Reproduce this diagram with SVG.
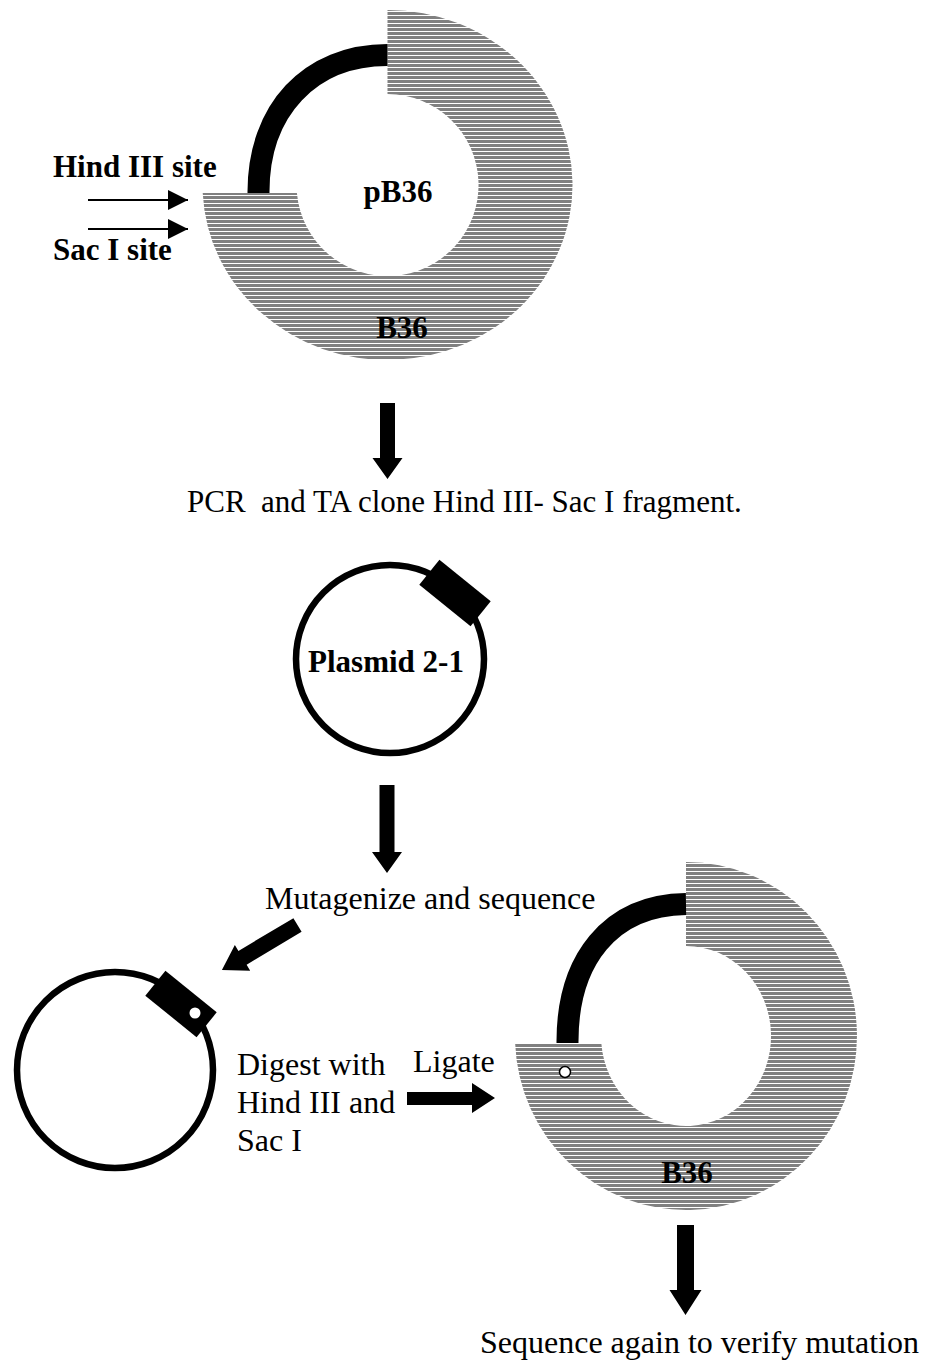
<svg xmlns="http://www.w3.org/2000/svg" width="925" height="1363" viewBox="0 0 925 1363">
<style>
.bold{font-family:"Liberation Serif","Times New Roman",serif;font-weight:bold;font-size:31px;fill:#000}
.reg{font-family:"Liberation Serif","Times New Roman",serif;font-size:32px;fill:#000}
.ring{fill:url(#hatch)}
.insert{fill:none;stroke:#000;stroke-width:22}
.plasmid{fill:none;stroke:#000;stroke-width:6.5}
.blk{fill:#000}
.dot{fill:#fff;stroke:#000;stroke-width:1.5}
.thin{stroke:#000;stroke-width:2;fill:none}
</style>
<defs>
<pattern id="hatch" patternUnits="userSpaceOnUse" x="0" y="0" width="10" height="4">
<rect x="0" y="0" width="10" height="4" fill="#fff" shape-rendering="crispEdges"/>
<rect x="0" y="0" width="10" height="3" fill="#808080" shape-rendering="crispEdges"/>
</pattern>
<marker id="tri" markerUnits="userSpaceOnUse" markerWidth="20" markerHeight="20" refX="20" refY="10" orient="auto" viewBox="0 0 20 20">
<path d="M0,0 L20,10 L0,20 Z" fill="#000"/>
</marker>
</defs>
<rect width="925" height="1363" fill="#fff"/>

<g id="node-pB36">
<path class="ring" d="M387.5,10 A185,175 0 1 1 202.7,193 L296.9,193 A91,91 0 1 0 387.5,94 Z"/>
<path class="insert" d="M258.5,193 C258,110 310,55 387.5,55"/>
<text class="bold" x="398" y="202" text-anchor="middle">pB36</text>
<text class="bold" x="402" y="338" text-anchor="middle">B36</text>
</g>

<g id="node-sites">
<text class="bold" x="53" y="177">Hind III site</text>
<text class="bold" x="53" y="260">Sac I site</text>
</g>

<g id="node-plasmid21">
<circle class="plasmid" cx="390" cy="659" r="94"/>
<rect class="blk" x="-33" y="-16" width="66" height="32" transform="translate(455,593) rotate(39)"/>
<text class="bold" x="386" y="672" text-anchor="middle">Plasmid 2-1</text>
</g>

<g id="node-mutated">
<circle class="plasmid" cx="115" cy="1070" r="98"/>
<rect class="blk" x="-33" y="-16" width="66" height="32" transform="translate(181,1004) rotate(39)"/>
<circle cx="195" cy="1013" r="5.5" fill="#fff"/>
</g>

<g id="node-final">
<path class="ring" d="M686,862 A171,174 0 1 1 515.1,1043 L601.3,1043 A85,90 0 1 0 686,946 Z"/>
<path class="insert" d="M567.5,1043 C567,960 610,905 686,904"/>
<circle class="dot" cx="565" cy="1072" r="5.5"/>
<text class="bold" x="687" y="1183" text-anchor="middle">B36</text>
</g>

<g id="labels">
<text class="reg" x="187" y="512" style="font-size:31px;white-space:pre" xml:space="preserve">PCR  and TA clone Hind III- Sac I fragment.</text>
<text class="reg" x="265" y="909">Mutagenize and sequence</text>
<text class="reg" x="237" y="1075">Digest with</text>
<text class="reg" x="237" y="1113">Hind III and</text>
<text class="reg" x="237" y="1151">Sac I</text>
<text class="reg" x="413" y="1072">Ligate</text>
<text class="reg" x="480" y="1353">Sequence again to verify mutation</text>
</g>

<g id="connectors">
<line class="thin" x1="88" y1="200" x2="188" y2="200" marker-end="url(#tri)"/>
<line class="thin" x1="88" y1="229" x2="188" y2="229" marker-end="url(#tri)"/>
<polygon class="blk" points="380,403 395,403 395,458 402.5,458 387.5,479 372.5,458 380,458"/>
<polygon class="blk" points="379.5,785 394.5,785 394.5,852 402,852 387,873 372,852 379.5,852"/>
<polygon class="blk" points="0,-8 64,-8 64,-15 88,0 64,15 64,8 0,8" transform="translate(297.5,925) rotate(149.2)"/>
<polygon class="blk" points="407,1092 472,1092 472,1083 495,1098 472,1113 472,1105 407,1105"/>
<polygon class="blk" points="677,1225 694,1225 694,1290 701.5,1290 685.5,1315 669.5,1290 677,1290"/>
</g>
</svg>
